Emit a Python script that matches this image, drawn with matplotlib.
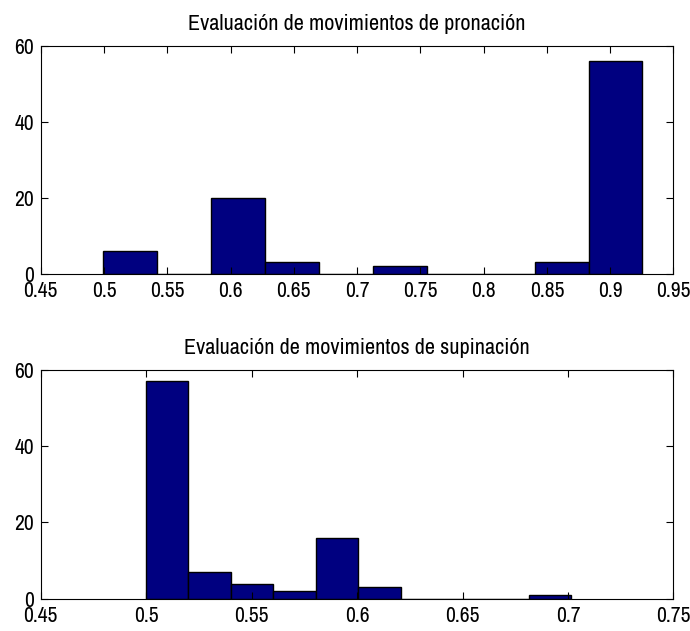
import matplotlib
matplotlib.use("Agg")
import matplotlib.pyplot as plt
import numpy as np

plt.rcParams['font.family'] = ['Archivo Narrow', 'DejaVu Sans']

# Data
pron_edges = np.linspace(0.4995, 0.9255, 11)
pron_counts = [6, 0, 20, 3, 0, 2, 0, 0, 3, 56]
sup_edges = np.linspace(0.4997, 0.7016, 11)
sup_counts = [57, 7, 4, 2, 16, 3, 0, 0, 0, 1]

titles = ['Evaluación de movimientos de pronación', 'Evaluación de movimientos de supinación']
xlims = [(0.45, 0.95), (0.45, 0.75)]
xticks = [[0.45, 0.5, 0.55, 0.6, 0.65, 0.7, 0.75, 0.8, 0.85, 0.9, 0.95],
          [0.45, 0.5, 0.55, 0.6, 0.65, 0.7, 0.75]]
xticklabels = [['0.45', '0.5', '0.55', '0.6', '0.65', '0.7', '0.75', '0.8', '0.85', '0.9', '0.95'],
               ['0.45', '0.5', '0.55', '0.6', '0.65', '0.7', '0.75']]
yticks = [0, 20, 40, 60]

fig = plt.figure(figsize=(6.9, 6.31), dpi=100)
positions = [[0.059, 0.566, 0.917, 0.361], [0.059, 0.051, 0.917, 0.363]]
data = [(pron_edges, pron_counts), (sup_edges, sup_counts)]

for i in range(2):
    ax = fig.add_axes(positions[i])
    edges, counts = data[i]
    ax.bar(edges[:-1], counts, width=np.diff(edges), align='edge',
           color='#000080', edgecolor='black', linewidth=1.0)
    ax.set_xlim(*xlims[i])
    ax.set_ylim(0, 60)
    ax.set_xticks(xticks[i])
    ax.set_xticklabels(xticklabels[i])
    ax.set_yticks(yticks)
    ax.tick_params(direction='in', top=True, right=True, length=5, width=0.8,
                   labelsize=15.5, colors='black')
    ax.tick_params(axis='x', pad=5.5)
    ax.tick_params(axis='y', pad=5)
    for s in ax.spines.values():
        s.set_linewidth(0.8)
    ax.set_title(titles[i], fontsize=16, pad=11.5)

fig.savefig('out.png', dpi=100)
